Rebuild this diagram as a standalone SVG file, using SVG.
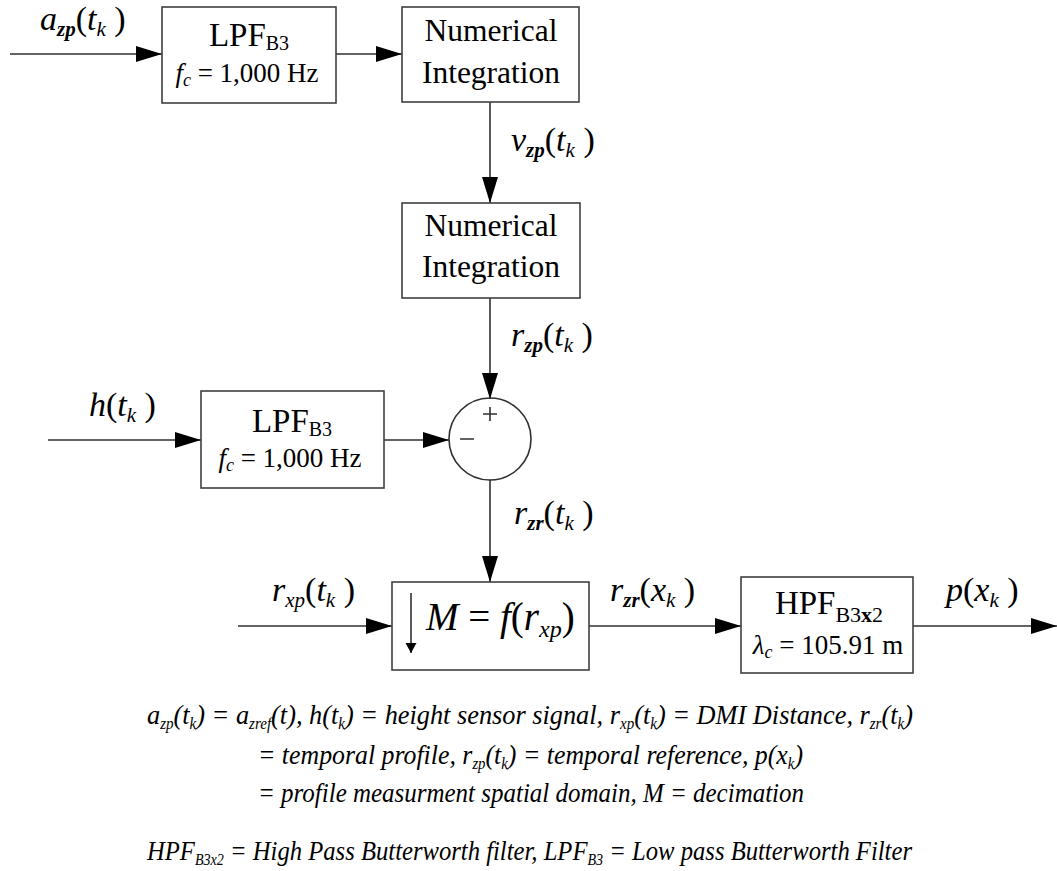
<svg xmlns="http://www.w3.org/2000/svg" width="1057" height="871" viewBox="0 0 1057 871">
<style>
.box{fill:#fff;stroke:#404040;stroke-width:1.6}
.ln{fill:none;stroke:#303030;stroke-width:1.6}
text{font-family:"Liberation Serif","Times New Roman",serif;fill:#000}
.t30{font-size:33px;text-anchor:middle}
.tn{font-size:31.5px;text-anchor:middle}
.t24{font-size:27px;text-anchor:middle}
.lbl{font-size:34px}
.i{font-style:italic}
.sb{font-size:21px;font-style:italic;font-weight:bold}
.sk{font-size:21px;font-style:italic}
.note{font-size:28px;font-style:italic}
.ns{font-size:16px}
</style>
<defs>
<marker id="ah" markerUnits="userSpaceOnUse" markerWidth="27" markerHeight="17" refX="26" refY="8" orient="auto">
<path d="M0,0 L26,8 L0,16 z" fill="#000"/>
</marker>
<marker id="ahs" markerUnits="userSpaceOnUse" markerWidth="13" markerHeight="22" refX="10" refY="5.5" orient="auto">
<path d="M0,0 L10,5.5 L0,11 z" fill="#000"/>
</marker>
</defs>

<g id="connectors">
<path class="ln" d="M10,54 H162" marker-end="url(#ah)"/>
<path class="ln" d="M336,54 H402" marker-end="url(#ah)"/>
<path class="ln" d="M490,102 V203" marker-end="url(#ah)"/>
<path class="ln" d="M490,298 V399" marker-end="url(#ah)"/>
<path class="ln" d="M48,440 H201" marker-end="url(#ah)"/>
<path class="ln" d="M384,440 H449" marker-end="url(#ah)"/>
<path class="ln" d="M490,480 V582" marker-end="url(#ah)"/>
<path class="ln" d="M238,626 H392" marker-end="url(#ah)"/>
<path class="ln" d="M589,626 H741" marker-end="url(#ah)"/>
<path class="ln" d="M913,626 H1057" marker-end="url(#ah)"/>
</g>

<g id="lpf1">
<rect class="box" x="162" y="7" width="174" height="96"/>
<text x="249" y="46" class="t30">LPF<tspan font-size="20" dy="4">B3</tspan></text>
<text x="247" y="82" class="t24"><tspan class="i">f</tspan><tspan class="i" font-size="18" dy="4">c</tspan><tspan dy="-4"> = 1,000 Hz</tspan></text>
</g>

<g id="integ1">
<rect class="box" x="402" y="7" width="177" height="95"/>
<text x="491" y="41" class="tn">Numerical</text>
<text x="491" y="83" class="tn">Integration</text>
</g>

<g id="integ2">
<rect class="box" x="402" y="203" width="178" height="95"/>
<text x="491" y="236" class="tn">Numerical</text>
<text x="491" y="277" class="tn">Integration</text>
</g>

<g id="lpf2">
<rect class="box" x="201" y="391" width="183" height="97"/>
<text x="292" y="432" class="t30">LPF<tspan font-size="20" dy="4">B3</tspan></text>
<text x="290" y="467" class="t24"><tspan class="i">f</tspan><tspan class="i" font-size="18" dy="4">c</tspan><tspan dy="-4"> = 1,000 Hz</tspan></text>
</g>

<g id="sum">
<circle class="ln" cx="490" cy="439" r="41" fill="#fff"/>
<path class="ln" d="M483,414 H497 M490,407 V421 M460,439 H474" stroke-width="1.4"/>
</g>

<g id="decim">
<rect class="box" x="392" y="582" width="197" height="88"/>
<path class="ln" d="M411,593 V653" marker-end="url(#ahs)"/>
<text x="426" y="630" font-size="39"><tspan class="i">M</tspan> = <tspan class="i">f</tspan>(<tspan class="i">r</tspan><tspan class="i" font-size="24" dy="7">xp</tspan><tspan dy="-7">)</tspan></text>
</g>

<g id="hpf">
<rect class="box" x="741" y="577" width="172" height="96"/>
<text x="829" y="614" font-size="33" text-anchor="middle">HPF<tspan font-size="22" dy="8">B3<tspan font-weight="bold">x</tspan>2</tspan></text>
<text x="828" y="654" class="t24"><tspan class="i">λ</tspan><tspan class="i" font-size="18" dy="4">c</tspan><tspan dy="-4"> = 105.91 m</tspan></text>
</g>

<g id="labels">
<text x="40" y="30" class="lbl"><tspan class="i">a</tspan><tspan class="sb" dy="6">zp</tspan><tspan dy="-6">(</tspan><tspan class="i">t</tspan><tspan class="sk" dy="6">k</tspan><tspan dy="-6"> )</tspan></text>
<text x="511" y="151" class="lbl"><tspan class="i">v</tspan><tspan class="sb" dy="6">zp</tspan><tspan dy="-6">(</tspan><tspan class="i">t</tspan><tspan class="sk" dy="6">k</tspan><tspan dy="-6"> )</tspan></text>
<text x="511" y="346" class="lbl"><tspan class="i">r</tspan><tspan class="sb" dy="6">zp</tspan><tspan dy="-6">(</tspan><tspan class="i">t</tspan><tspan class="sk" dy="6">k</tspan><tspan dy="-6"> )</tspan></text>
<text x="89" y="416" class="lbl"><tspan class="i">h</tspan>(<tspan class="i">t</tspan><tspan class="sk" dy="6">k</tspan><tspan dy="-6"> )</tspan></text>
<text x="514" y="524" class="lbl"><tspan class="i">r</tspan><tspan class="sb" dy="6">zr</tspan><tspan dy="-6">(</tspan><tspan class="i">t</tspan><tspan class="sk" dy="6">k</tspan><tspan dy="-6"> )</tspan></text>
<text x="272" y="601" class="lbl"><tspan class="i">r</tspan><tspan class="sk" dy="6">xp</tspan><tspan dy="-6">(</tspan><tspan class="i">t</tspan><tspan class="sk" dy="6">k</tspan><tspan dy="-6"> )</tspan></text>
<text x="610" y="601" class="lbl"><tspan class="i">r</tspan><tspan class="sb" dy="6">zr</tspan><tspan dy="-6">(</tspan><tspan class="i">x</tspan><tspan class="sk" dy="6">k</tspan><tspan dy="-6"> )</tspan></text>
<text x="946" y="601" class="lbl"><tspan class="i">p</tspan>(<tspan class="i">x</tspan><tspan class="sk" dy="6">k</tspan><tspan dy="-6"> )</tspan></text>
</g>

<g id="legend">
<text x="147" y="724" class="note" textLength="766" lengthAdjust="spacingAndGlyphs">a<tspan class="ns" dy="5">zp</tspan><tspan dy="-5">(t</tspan><tspan class="ns" dy="5">k</tspan><tspan dy="-5">) = a</tspan><tspan class="ns" dy="5">zref</tspan><tspan dy="-5">(t), h(t</tspan><tspan class="ns" dy="5">k</tspan><tspan dy="-5">) = height sensor signal, r</tspan><tspan class="ns" dy="5">xp</tspan><tspan dy="-5">(t</tspan><tspan class="ns" dy="5">k</tspan><tspan dy="-5">) = DMI Distance, r</tspan><tspan class="ns" dy="5">zr</tspan><tspan dy="-5">(t</tspan><tspan class="ns" dy="5">k</tspan><tspan dy="-5">)</tspan></text>
<text x="258" y="764" class="note" textLength="545" lengthAdjust="spacingAndGlyphs">= temporal profile, r<tspan class="ns" dy="5">zp</tspan><tspan dy="-5">(t</tspan><tspan class="ns" dy="5">k</tspan><tspan dy="-5">) = temporal reference, p(x</tspan><tspan class="ns" dy="5">k</tspan><tspan dy="-5">)</tspan></text>
<text x="258" y="802" class="note" textLength="546" lengthAdjust="spacingAndGlyphs">= profile measurment spatial domain, M = decimation</text>
<text x="147" y="860" class="note" textLength="765" lengthAdjust="spacingAndGlyphs">HPF<tspan class="ns" dy="5">B3x2</tspan><tspan dy="-5"> = High Pass Butterworth filter, LPF</tspan><tspan class="ns" dy="5">B3</tspan><tspan dy="-5"> = Low pass Butterworth Filter</tspan></text>
</g>
</svg>
